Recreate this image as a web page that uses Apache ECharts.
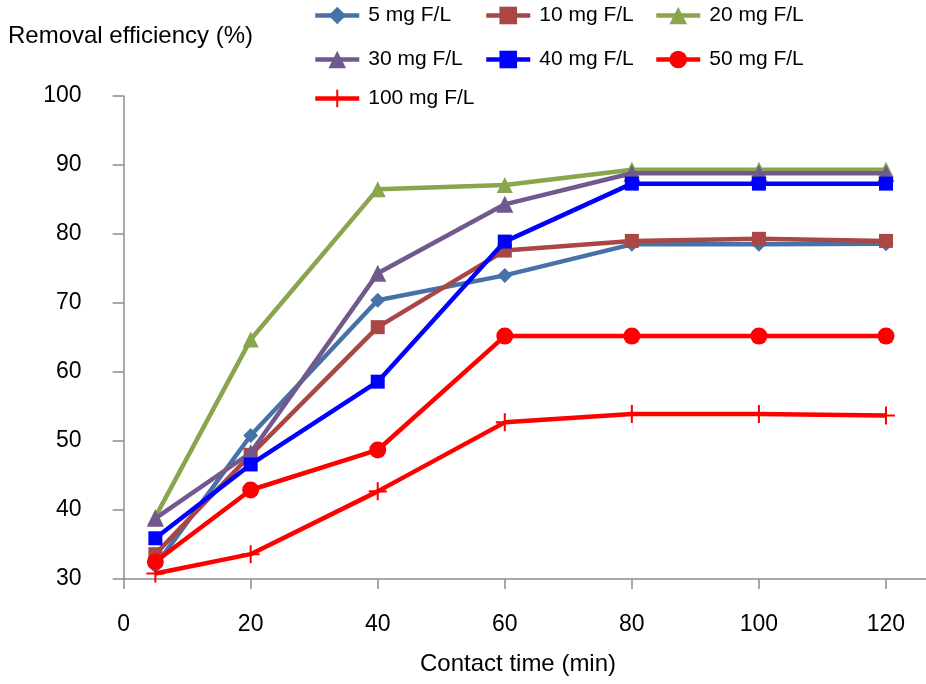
<!DOCTYPE html>
<html>
<head>
<meta charset="utf-8">
<script src="https://cdn.jsdelivr.net/npm/echarts@6/dist/echarts.min.js"></script>
<style>
html,body{margin:0;padding:0;background:#fff;}
#c{width:926px;height:684px;}
</style>
</head>
<body>
<div id="c"></div>
<script>
const times = [5, 20, 40, 60, 80, 100, 120];
const seriesNames = ['5 mg F/L', '10 mg F/L', '20 mg F/L', '30 mg F/L', '40 mg F/L', '50 mg F/L', '100 mg F/L'];
const s5 = [31.9, 50.8, 70.4, 74.0, 78.5, 78.5, 78.6];
const s10 = [33.6, 48.0, 66.5, 77.6, 79.0, 79.3, 79.0];
const s20 = [39.0, 64.7, 86.5, 87.1, 89.3, 89.3, 89.3];
const s30 = [38.8, 48.3, 74.3, 84.3, 88.8, 88.8, 88.8];
const s40 = [35.9, 46.6, 58.6, 78.9, 87.3, 87.3, 87.3];
const s50 = [32.5, 42.9, 48.7, 65.2, 65.2, 65.2, 65.2];
const s100 = [30.8, 33.6, 42.7, 52.7, 53.9, 53.9, 53.7];
const yTicks = [30, 40, 50, 60, 70, 80, 90, 100];
const xTicks = [0, 20, 40, 60, 80, 100, 120];

const allValues = [s5, s10, s20, s30, s40, s50, s100];
const colors = ['#4672A8', '#AA4643', '#89A54E', '#71588F', '#0000FF', '#FF0000', '#FF0000'];
const plusPath = 'path://M7.1,0h1.8v16h-1.8z M0,7.1h16v1.8h-16z';
const symbols = ['diamond', 'rect', 'triangle', 'triangle', 'rect', 'circle', plusPath];
const symbolSizes = [15, 14, 16, 17, 14, 17, 18];

const FONT = 'Liberation Sans, Arial, sans-serif';

const series = seriesNames.map((name, i) => ({
  name: name,
  type: 'line',
  data: times.map((t, j) => [t, allValues[i][j]]),
  symbol: symbols[i],
  symbolSize: symbolSizes[i],
  showAllSymbol: true,
  lineStyle: { color: colors[i], width: 4.5 },
  itemStyle: { color: colors[i], borderWidth: 0 },
  emphasis: { disabled: true },
  animation: false,
  z: 2 + i
}));

const legendPos = [
  [313, 5], [484, 5], [654, 5],
  [313, 49], [484, 49], [654, 49],
  [313, 88]
];
const legends = seriesNames.map((name, i) => ({
  data: [name],
  left: legendPos[i][0],
  top: legendPos[i][1],
  padding: 0,
  itemWidth: 44,
  itemHeight: 22,
  itemGap: 13,
  selectedMode: false,
  lineStyle: { width: 4.5 },
  textStyle: { fontSize: 21, color: '#000', fontFamily: FONT, padding: [0, 0, 0, 4] }
}));

const chart = echarts.init(document.getElementById('c'), null, { renderer: 'canvas' });
chart.setOption({
  backgroundColor: '#fff',
  animation: false,
  legend: legends,
  grid: { left: 123.6, right: 0, top: 96, bottom: 105, containLabel: false },
  xAxis: {
    type: 'value',
    min: xTicks[0],
    max: 126.3,
    interval: 20,
    splitLine: { show: false },
    axisLine: { show: true, lineStyle: { color: '#8C8C8C', width: 1.5 } },
    axisTick: { show: true, inside: false, length: 10, lineStyle: { color: '#8C8C8C', width: 1.5 } },
    axisLabel: { showMaxLabel: false, margin: 34, fontSize: 23, color: '#000', fontFamily: FONT,
      formatter: v => xTicks.includes(v) ? String(v) : '' }
  },
  yAxis: {
    type: 'value',
    min: yTicks[0],
    max: yTicks[yTicks.length - 1],
    interval: 10,
    splitLine: { show: false },
    axisLine: { show: true, lineStyle: { color: '#8C8C8C', width: 1.5 } },
    axisTick: { show: true, inside: false, length: 11, lineStyle: { color: '#8C8C8C', width: 1.5 } },
    axisLabel: { margin: 42, fontSize: 23, color: '#000', fontFamily: FONT }
  },
  graphic: [
    { type: 'text', left: 8, top: 24, style: { text: 'Removal efficiency (%)', fontSize: 24, fill: '#000', fontFamily: FONT } },
    { type: 'text', left: 420, top: 652, style: { text: 'Contact time (min)', fontSize: 24, fill: '#000', fontFamily: FONT } }
  ],
  series: series
});
</script>
</body>
</html>
